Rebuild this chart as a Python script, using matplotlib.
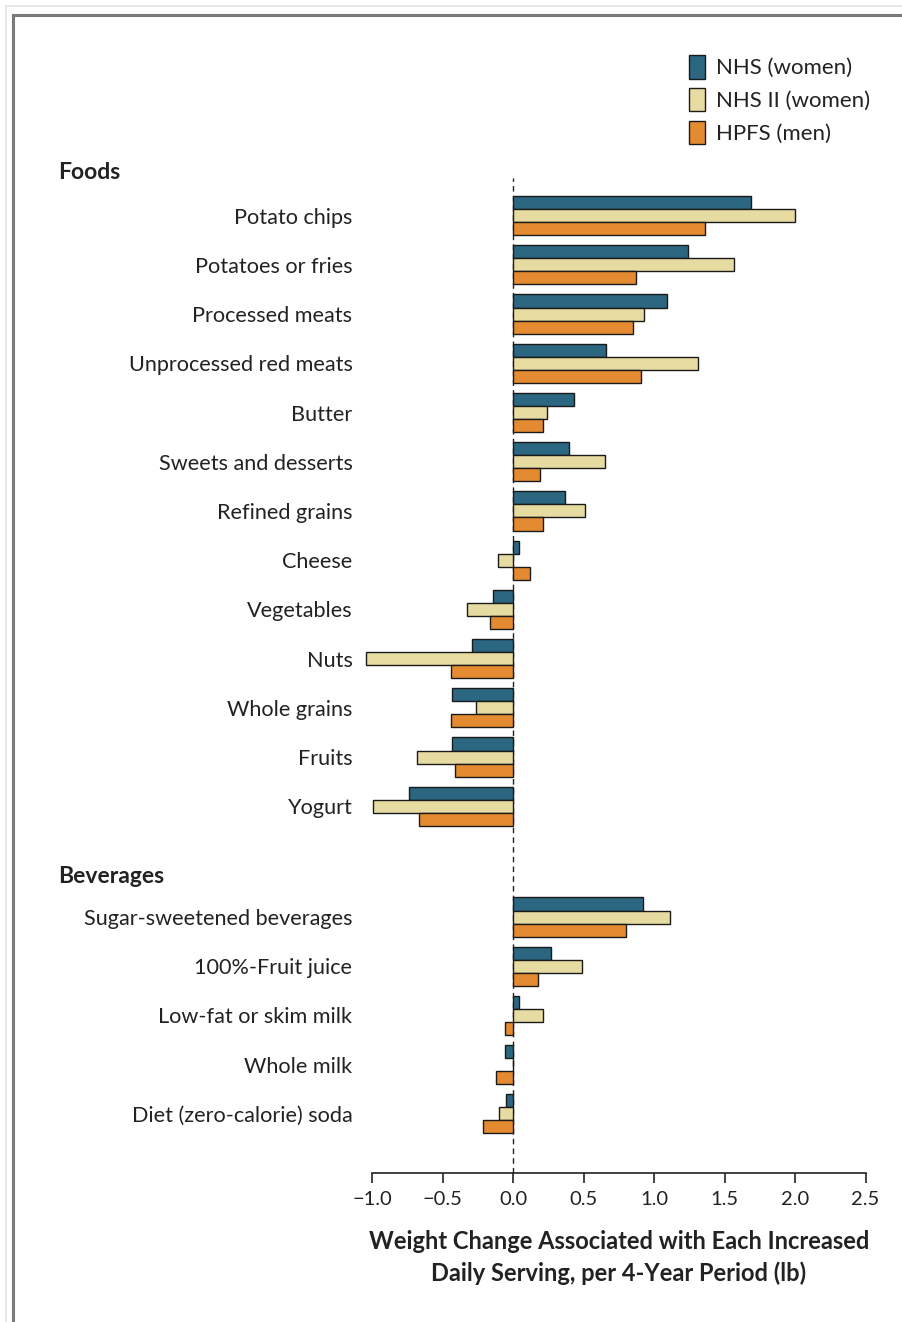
import matplotlib.pyplot as plt
import matplotlib.transforms as mtransforms
from matplotlib.lines import Line2D
from matplotlib.patches import Patch
import numpy

plt.rcParams['font.family'] = ['Lato', 'DejaVu Sans']

foods = ["Potato chips", "Potatoes or fries", "Processed meats", "Unprocessed red meats",
         "Butter", "Sweets and desserts", "Refined grains", "Cheese", "Vegetables", "Nuts",
         "Whole grains", "Fruits", "Yogurt"]
beverages = ["Sugar-sweetened beverages", "100%-Fruit juice", "Low-fat or skim milk",
             "Whole milk", "Diet (zero-calorie) soda"]

# weight change (lb) per study, foods then beverages
nhs = [1.69, 1.24, 1.09, 0.66, 0.43, 0.40, 0.37, 0.04, -0.14, -0.29, -0.43, -0.43, -0.74,
       0.92, 0.27, 0.04, -0.06, -0.05]
nhs2 = [2.00, 1.57, 0.93, 1.31, 0.24, 0.65, 0.51, -0.11, -0.33, -1.04, -0.26, -0.68, -0.99,
        1.11, 0.49, 0.21, 0.0, -0.10]
hpfs = [1.36, 0.87, 0.85, 0.91, 0.21, 0.19, 0.21, 0.12, -0.16, -0.44, -0.44, -0.41, -0.67,
        0.80, 0.18, -0.06, -0.12, -0.21]

series_names = ["NHS (women)", "NHS II (women)", "HPFS (men)"]
colors = ["#2b6781", "#e6dca2", "#e48a30"]

ticks = [-1.0, -0.5, 0.0, 0.5, 1.0, 1.5, 2.0, 2.5]
tick_labels = ["\u22121.0", "\u22120.5", "0.0", "0.5", "1.0", "1.5", "2.0", "2.5"]

labels = foods + beverages
# beverages sit after a gap for the section header
pos = numpy.array(list(range(len(foods))) + [len(foods) + 1.25 + i for i in range(len(beverages))])

fig = plt.figure(figsize=(9.02, 13.22), dpi=100)
ax = fig.add_axes([365 / 902, (1322 - 1173) / 1322, 507.6 / 902, 994.8 / 1322])

h = 0.265
for k, (vals, c, name) in enumerate(zip([nhs, nhs2, hpfs], colors, series_names)):
    ax.barh(pos + (k - 1) * h, vals, height=h, color=c, edgecolor="#1a1a1a", linewidth=1.0,
            label=name, zorder=3)

ax.axvline(0, color="#222222", lw=1.0, linestyle=(0, (4, 3)), zorder=2)

ax.set_xlim(-1.05, 2.55)
ax.set_ylim(19.45, -0.76)
ax.set_xticks(ticks)
ax.set_xticklabels(tick_labels)
ax.set_yticks(pos)
ax.set_yticklabels(labels, fontsize=15.6, color="#222222")
ax.tick_params(axis="y", length=0, pad=9)
ax.tick_params(axis="x", direction="out", length=7, width=1.2, labelsize=14.5, pad=6,
               colors="#222222")
for s in ["left", "top", "right"]:
    ax.spines[s].set_visible(False)
ax.spines["bottom"].set_bounds(-1.0, 2.5)
ax.spines["bottom"].set_linewidth(1.2)
ax.spines["bottom"].set_color("#222222")
ax.set_xlabel("Weight Change Associated with Each Increased\nDaily Serving, per 4-Year Period (lb)",
              fontsize=17, fontweight="bold", labelpad=16, linespacing=1.42, color="#222222")

trans = mtransforms.blended_transform_factory(fig.transFigure, ax.transData)
ax.text(58 / 902, -0.87, "Foods", transform=trans, fontsize=16.5, fontweight="bold",
        ha="left", va="center", color="#222222")
ax.text(58 / 902, len(foods) + 1.25 - 0.83, "Beverages", transform=trans, fontsize=16.5,
        fontweight="bold", ha="left", va="center", color="#222222")

handles = [Patch(facecolor=c, edgecolor="#1a1a1a", linewidth=1.0) for c in colors]
fig.legend(handles, series_names, loc="upper left", bbox_to_anchor=(669 / 902, 1 - 35 / 1322),
           frameon=False, fontsize=16, handlelength=0.72, handleheight=1.25,
           handletextpad=0.5, labelspacing=0.42, labelcolor="#222222")

# screenshot frame lines
fig.add_artist(Line2D([13 / 902, 13 / 902], [0, 1 - 15 / 1322], color="#7a7a7a", lw=2.2))
fig.add_artist(Line2D([13 / 902, 1], [1 - 15 / 1322, 1 - 15 / 1322], color="#7a7a7a", lw=2.2))
fig.add_artist(Line2D([6 / 902, 6 / 902], [0, 1 - 6 / 1322], color="#e4e4e4", lw=1.2))
fig.add_artist(Line2D([6 / 902, 1], [1 - 6 / 1322, 1 - 6 / 1322], color="#e4e4e4", lw=1.2))

fig.savefig("out.png", dpi=100)
